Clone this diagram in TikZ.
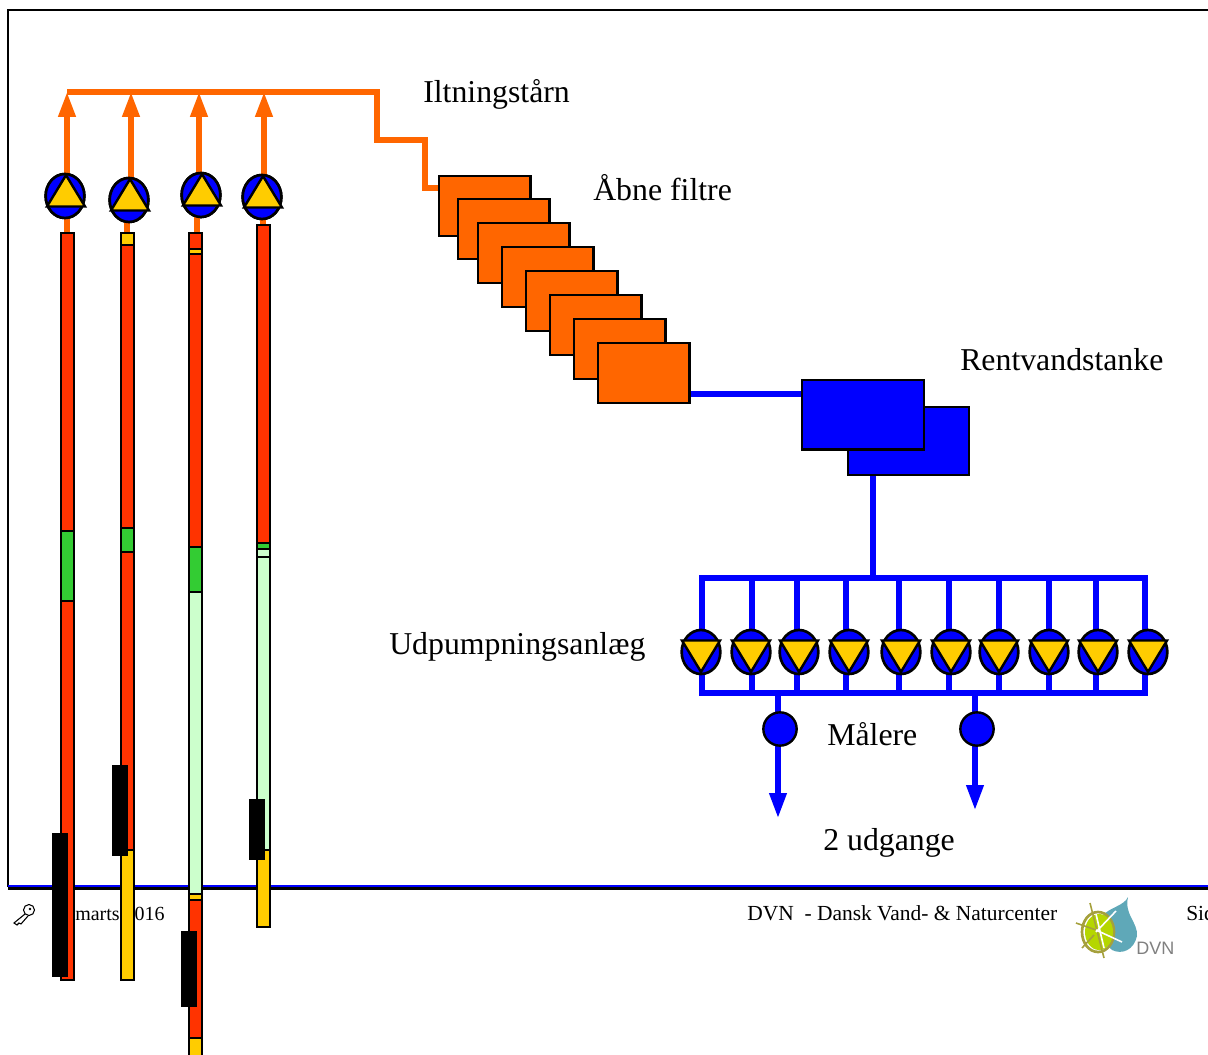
\documentclass[tikz,border=0pt]{standalone}
\usepackage{fontspec}
\setmainfont{Liberation Serif}
\newfontfamily\logofont{Liberation Sans}
\usetikzlibrary{arrows.meta,positioning,shapes.geometric}
\definecolor{myorange}{RGB}{255,102,0}
\definecolor{myred}{RGB}{255,51,0}
\definecolor{myblue}{RGB}{0,0,255}
\definecolor{myyellow}{RGB}{255,204,0}
\definecolor{mygreen}{RGB}{51,204,51}
\definecolor{mypale}{RGB}{204,255,204}
\definecolor{myteal}{RGB}{95,168,184}
\definecolor{mylime}{RGB}{181,214,0}
\definecolor{myolive}{RGB}{165,160,60}
\begin{document}
\begin{tikzpicture}[x=0.75pt,y=-0.75pt,line join=miter,
      label/.style={font=\fontsize{23.85}{26}\selectfont,anchor=west,inner sep=0pt},
      foot/.style={font=\fontsize{16.1}{18}\selectfont,anchor=west,inner sep=0pt},
      seg/.style={draw=black,line width=1.8pt},
      filterbox/.style={draw=black,line width=1.8pt,fill=myorange,minimum width=68.5pt,
        minimum height=45pt,inner sep=0pt,anchor=north west},
      tankbox/.style={draw=black,line width=1.8pt,fill=myblue,inner sep=0pt,anchor=north west},
      pumpbody/.style={ellipse,draw=black,line width=2pt,fill=myblue,minimum width=29pt,
        minimum height=33pt,inner sep=0pt},
      pumptri/.style={isosceles triangle,isosceles triangle stretches,draw=black,line width=1.8pt,
        fill=myyellow,minimum width=28.5pt,minimum height=23.5pt,inner sep=0pt},
      meter/.style={circle,draw=black,line width=1.8pt,fill=myblue,minimum size=25pt,inner sep=0pt},
      oline/.style={myorange,line width=4pt},
      oarr/.style={oline,-{Triangle[length=18.75pt,width=12.5pt]}},
      bline/.style={myblue,line width=3.8pt,line cap=rect},
      barr/.style={myblue,line width=3.8pt,-{Triangle[length=18.75pt,width=12.5pt]}}]
    \clip (0,0) rectangle (1208,1055);
    % frame
    \draw[black,line width=2pt] (8,887) -- (8,10) -- (1230,10);
    \draw[black,line width=3pt] (8,887.5) -- (1230,887.5);
    \draw[myblue,line width=1.5pt] (8,886.3) -- (1230,886.3);
    % footer
    \node[foot,font=\fontsize{15}{18}\selectfont] (date) at (75,914) {marts 2016};
    \node[foot] (firm) at (747,913) {DVN\ \ - Dansk Vand- \& Naturcenter};
    \node[foot] (side) at (1186,913) {Side};
    \draw[black,line width=0.8pt] (29,910) circle (5.5);
    \fill[black] (30,909) circle (1.3);
    \draw[black,line width=0.8pt] (25,914) -- (14,923) -- (17,925) -- (19,923) -- (21,924) -- (28,916);
    % logo
    \fill[myteal] (1128,897) .. controls (1124,906) and (1110,907) .. (1102,916)
      .. controls (1100,926) and (1104,944) .. (1112,950)
      .. controls (1122,955) and (1134,950) .. (1137,936)
      .. controls (1138,922) and (1124,915) .. (1128,897) -- cycle;
    \draw[myolive,line width=2pt] (1098,932) ellipse (16 and 20);
    \fill[mylime] (1099,932) ellipse (14 and 18);
    \draw[myolive,line width=1.2pt] (1090,903) -- (1104,958);
    \draw[myolive,line width=1.2pt] (1076,923) -- (1096,930);
    \draw[myolive,line width=1.2pt] (1082,948) -- (1094,935);
    \draw[white,line width=1.2pt] (1096,930) -- (1122,942);
    \draw[white,line width=1.2pt] (1096,932) -- (1116,911);
    \draw[white,line width=1.2pt] (1096,914) -- (1104,948);
    \node[inner sep=0pt,anchor=west,text=black!50,font=\logofont\fontsize{13.5}{15}\selectfont]
      (dvn) at (1136,948) {DVN};
    % labels
    \node[label] (ilt) at (423,94) {Iltningstårn};
    \node[label] (abne) at (593,188) {Åbne filtre};
    \node[label] (rent) at (960,360) {Rentvandstanke};
    \node[label] (udp) at (389,647) {Udpumpningsanlæg};
    \node[label] (mal) at (827,734) {Målere};
    \node[label] (udg) at (823,843) {2 udgange};
    % orange side
    \coordinate (h1) at (67,92);
    \coordinate (h2) at (131,92);
    \coordinate (h3) at (199,92);
    \coordinate (h4) at (264,92);
    \coordinate (b1) at (377,92);
    \coordinate (b2) at (377,140);
    \coordinate (b3) at (425,140);
    \coordinate (b4) at (425,188);
    \coordinate (b5) at (439,188);
    \coordinate (w1) at (67,233);
    \coordinate (w2) at (127,233);
    \coordinate (w3) at (197,233);
    \coordinate (w4) at (263,225);
    \foreach \n/\x/\y in {1/65/196,2/129/200,3/201/195,4/262/197}
      \node[pumpbody] (pu\n) at (\x,\y) {};
    \foreach \n in {1,2,3,4} {
      \draw[oline] (w\n) -- (w\n |- pu\n);
      \draw[oarr] (h\n |- pu\n) -- (h\n);
    }
    \draw[oline] (h1) -- (b1) -- (b2) -- (b3) -- (b4) -- (b5);
    \foreach \n/\x/\y in {1/65/196,2/129/200,3/201/195,4/262/197} {
      \node[pumpbody] at (\x,\y) {};
      \node[pumptri,shape border rotate=90,anchor=apex] (tu\n) at (\x+1,\y-24) {};
    }
    % wells
    \foreach \x/\ya/\yb/\c in {
      61/233/531/myred,61/531/601/mygreen,61/601/980/myred,
      121/233/245/myyellow,121/245/528/myred,121/528/552/mygreen,121/552/850/myred,121/850/980/myyellow,
      189/233/249/myred,189/249/254/myyellow,189/254/547/myred,189/547/592/mygreen,189/592/894/mypale,
      189/894/900/myyellow,189/900/1038/myred,189/1038/1070/myyellow,
      257/225/543/myred,257/543/549/mygreen,257/549/557/mypale,257/557/850/mypale,257/850/927/myyellow}
      \draw[seg,fill=\c] (\x,\ya) rectangle (\x+13,\yb);
    \foreach \x/\ya/\yb in {52/833/977,112/765/856,181/931/1007,249/799/860}
      \fill[black] (\x,\ya) rectangle (\x+16,\yb);
    % filters
    \foreach \n/\x/\y in {1/438/175,2/457/198,3/477/222,4/501/246,5/525/270,6/549/294,7/573/318,8/597/342}
      \node[filterbox] (f\n) at (\x,\y) {};
    % tanks
    \node[tankbox,minimum width=90.5pt,minimum height=51pt] (tankb) at (847,406) {};
    \node[tankbox,minimum width=91.5pt,minimum height=52pt] (tankf) at (801,379) {};
    \coordinate (ft) at (f8.east |- 0,394);
    \draw[bline,line cap=butt] (ft) -- (ft -| tankf.west);
    % manifold
    \foreach \n/\x in {1/702,2/752,3/797,4/846,5/899,6/949,7/999,8/1049,9/1096,10/1145} {
      \coordinate (dt\n) at (\x,578);
      \coordinate (db\n) at (\x,693);
      \draw[bline,line cap=butt] (dt\n) -- (db\n);
    }
    \draw[bline] (dt1) -- (dt10);
    \draw[bline] (db1) -- (db10);
    \coordinate (tt) at (873,578);
    \draw[bline,line cap=butt] (tt) -- (tt |- tankb.south);
    \foreach \n/\x in {1/701,2/751,3/799,4/849,5/901,6/951,7/999,8/1049,9/1098,10/1148} {
      \node[pumpbody] (pd\n) at (\x,652) {};
      \node[pumptri,shape border rotate=270,anchor=apex] (td\n) at (\x,675) {};
    }
    % meters
    \coordinate (o1) at (778,693);
    \coordinate (o2) at (975,693);
    \coordinate (e1) at (778,818);
    \coordinate (e2) at (975,810);
    \draw[barr] (o1) -- (e1);
    \draw[barr] (o2) -- (e2);
    \node[meter] (m1) at (780,729) {};
    \node[meter] (m2) at (977,729) {};
\end{tikzpicture}
\end{document}
